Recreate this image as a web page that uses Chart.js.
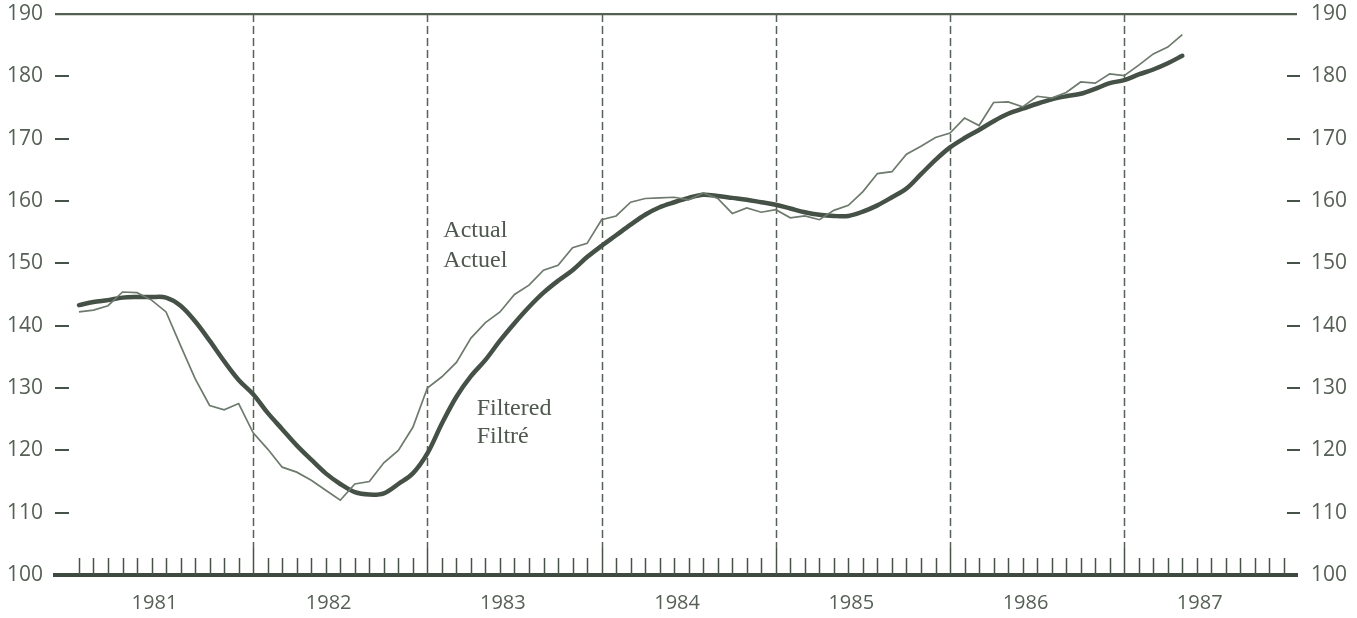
<!DOCTYPE html>
<html lang="en">
<head>
<meta charset="UTF-8">
<title>Actual / Filtered</title>
<script src="https://cdn.jsdelivr.net/npm/chart.js"></script>
<style>
    html, body { margin: 0; padding: 0; background: #fff; }
    .chart-container { width: 1357px; height: 618px; position: relative; }
</style>
</head>
<body>
<div class="chart-container">
    <canvas id="trendChart"></canvas>
</div>

<script>
// monthly values, Jan 1981 .. May 1987 (index 0 = Jan 1981)
const years = ['1981', '1982', '1983', '1984', '1985', '1986', '1987'];
const actual = [
    142.2, 142.5, 143.2, 145.4, 145.3, 144.1, 142.2, 136.8, 131.5, 127.2, 126.5, 127.5,
    122.8, 120.2, 117.3, 116.5, 115.2, 113.6, 112.0, 114.6, 115.0, 118.0, 120.0, 123.7,
    130.0, 131.8, 134.1, 138.0, 140.5, 142.2, 145.0, 146.5, 148.9, 149.7, 152.5, 153.2,
    157.0, 157.6, 159.8, 160.4, 160.5, 160.6, 160.2, 161.3, 160.4, 158.0, 158.9, 158.2,
    158.6, 157.3, 157.6, 157.0, 158.5, 159.3, 161.5, 164.4, 164.7, 167.5, 168.8, 170.2,
    170.9, 173.3, 172.1, 175.8, 175.9, 175.1, 176.8, 176.5, 177.4, 179.1, 178.9, 180.4,
    180.1, 181.8, 183.6, 184.7, 186.7
];
const filtered = [
    143.3, 143.8, 144.1, 144.5, 144.6, 144.6, 144.5, 143.2, 140.7, 137.6, 134.3, 131.3,
    129.0, 126.0, 123.4, 120.8, 118.5, 116.3, 114.6, 113.3, 112.9, 113.1, 114.6, 116.3,
    119.5, 124.3, 128.6, 131.9, 134.5, 137.6, 140.4, 143.0, 145.3, 147.2, 148.9, 151.0,
    152.8, 154.5, 156.2, 157.8, 159.0, 159.8, 160.5, 161.0, 160.8, 160.5, 160.2, 159.8,
    159.4, 158.8, 158.2, 157.8, 157.6, 157.6, 158.3, 159.3, 160.6, 162.0, 164.3, 166.6,
    168.6, 170.1, 171.4, 172.8, 174.0, 174.8, 175.6, 176.3, 176.8, 177.2, 178.0, 178.9,
    179.4, 180.3, 181.1, 182.1, 183.3
];
const yTicks = [100, 110, 120, 130, 140, 150, 160, 170, 180, 190];

// series labels placed in data units (month, value)
const notes = [
    { text: 'Actual',   x: 25.1, y: 154.2 },
    { text: 'Actuel',   x: 25.1, y: 149.4 },
    { text: 'Filtered', x: 27.4, y: 125.7 },
    { text: 'Filtré',   x: 27.4, y: 121.2 }
];

const ink = '#465247';
const textInk = '#566056';

const decor = {
    id: 'decor',
    beforeDatasetsDraw(chart) {
        const { ctx, chartArea: a, scales } = chart;
        const x = scales.x, y = scales.y;
        ctx.save();
        // dashed year separators
        ctx.strokeStyle = '#586158';
        ctx.lineWidth = 1.5;
        ctx.setLineDash([8, 4]);
        for (let m = 12; m <= 72; m += 12) {
            const px = Math.round(x.getPixelForValue(m)) + 0.5;
            ctx.beginPath();
            ctx.moveTo(px, a.top);
            ctx.lineTo(px, a.bottom - 27);
            ctx.stroke();
        }
        ctx.setLineDash([]);
        // monthly ticks pointing up from the axis
        ctx.strokeStyle = ink;
        ctx.lineWidth = 1.5;
        for (let m = 0; m < 84; m++) {
            const px = Math.round(x.getPixelForValue(m)) + 0.5;
            const len = (m % 12 === 0 && m > 0) ? 27 : 17;
            ctx.beginPath();
            ctx.moveTo(px, a.bottom);
            ctx.lineTo(px, a.bottom - len);
            ctx.stroke();
        }
        // inward value dashes on both sides
        ctx.lineWidth = 2;
        yTicks.forEach(v => {
            if (v === 100 || v === 190) return;
            const py = Math.round(y.getPixelForValue(v));
            ctx.beginPath();
            ctx.moveTo(a.left, py);
            ctx.lineTo(a.left + 14, py);
            ctx.moveTo(a.right - 10, py);
            ctx.lineTo(a.right + 3, py);
            ctx.stroke();
        });
        ctx.restore();
    },
    afterDraw(chart) {
        const { ctx, scales } = chart;
        ctx.save();
        ctx.fillStyle = '#4f584f';
        ctx.font = '24px "Liberation Serif", serif';
        ctx.textBaseline = 'alphabetic';
        ctx.textAlign = 'left';
        notes.forEach(n => {
            ctx.fillText(n.text, scales.x.getPixelForValue(n.x), scales.y.getPixelForValue(n.y));
        });
        ctx.restore();
    }
};

function fitY(width) {
    return scale => {
        scale.width = width;
        scale.paddingTop = 14;
        scale.paddingBottom = 0;
    };
}

document.addEventListener('DOMContentLoaded', function() {
    new Chart(document.getElementById('trendChart'), {
        type: 'line',
        data: {
            datasets: [
                {
                    label: 'Actual',
                    data: actual.map((v, i) => ({ x: i, y: v })),
                    borderColor: '#6d7a6d',
                    borderWidth: 1.7,
                    pointRadius: 0,
                    tension: 0,
                    yAxisID: 'y'
                },
                {
                    label: 'Filtered',
                    data: filtered.map((v, i) => ({ x: i, y: v })),
                    borderColor: '#455146',
                    borderWidth: 4.5,
                    pointRadius: 0,
                    tension: 0.35,
                    borderCapStyle: 'round',
                    yAxisID: 'y'
                }
            ]
        },
        options: {
            responsive: true,
            maintainAspectRatio: false,
            animation: false,
            layout: { padding: 0 },
            plugins: {
                legend: { display: false },
                tooltip: { enabled: false }
            },
            scales: {
                x: {
                    type: 'linear',
                    min: -1.65,
                    max: 83.9,
                    afterBuildTicks: scale => {
                        scale.ticks = years.map((yr, i) => ({ value: i * 12 + 5.2 }));
                    },
                    afterFit: scale => { scale.height = 43; },
                    ticks: {
                        autoSkip: false,
                        maxRotation: 0,
                        padding: 16,
                        color: textInk,
                        font: { family: '"Open Sans"', size: 20 },
                        callback: (v, i) => years[i]
                    },
                    grid: { display: false, drawTicks: false },
                    border: { display: true, color: '#3e4a3f', width: 4 }
                },
                y: {
                    position: 'left',
                    min: 100,
                    max: 190,
                    afterBuildTicks: scale => {
                        scale.ticks = yTicks.map(v => ({ value: v }));
                    },
                    afterFit: fitY(55),
                    ticks: {
                        padding: 12,
                        color: textInk,
                        font: { family: '"Open Sans"', size: 21 }
                    },
                    grid: {
                        drawTicks: false,
                        color: c => c.tick && c.tick.value === 190 ? '#536054' : 'rgba(0,0,0,0)',
                        lineWidth: 2.2
                    },
                    border: { display: false }
                },
                y1: {
                    position: 'right',
                    min: 100,
                    max: 190,
                    afterBuildTicks: scale => {
                        scale.ticks = yTicks.map(v => ({ value: v }));
                    },
                    afterFit: fitY(60),
                    ticks: {
                        padding: 14,
                        color: textInk,
                        font: { family: '"Open Sans"', size: 21 }
                    },
                    grid: { display: false, drawTicks: false },
                    border: { display: false }
                }
            }
        },
        plugins: [decor]
    });
});
</script>
</body>
</html>
